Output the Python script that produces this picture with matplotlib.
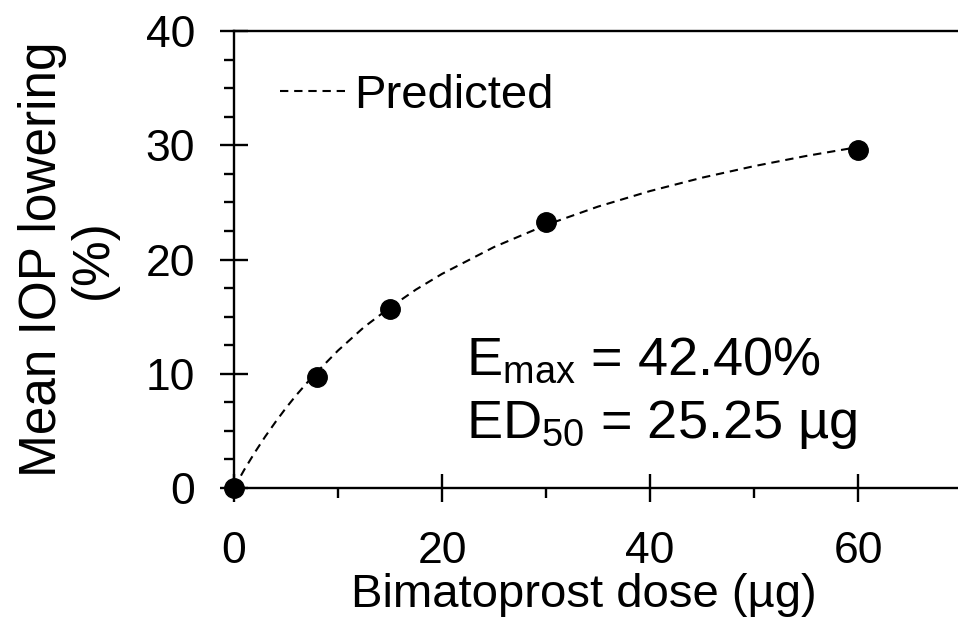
import matplotlib
matplotlib.use("Agg")
import matplotlib.pyplot as plt
from matplotlib.ticker import MultipleLocator

plt.rcParams['font.family'] = ['Liberation Sans', 'DejaVu Sans']
plt.rcParams['mathtext.fontset'] = 'custom'
plt.rcParams['mathtext.rm'] = 'Liberation Sans'
plt.rcParams['mathtext.it'] = 'Liberation Sans'

# Observed data
dose = [0, 8, 15, 30, 60]
iop_lowering = [0.0, 9.7, 15.7, 23.3, 29.6]

# Predicted (Emax model curve) values
pred_dose = [0, 1, 2, 3, 4, 5, 6, 7.5, 10, 12.5, 15, 17.5, 20, 25, 30, 35, 40, 45, 50, 55, 60]
pred_values = [0.0, 1.62, 3.11, 4.50, 5.79, 7.01, 8.14, 9.71, 12.03, 14.08, 15.80,
               17.37, 18.74, 21.09, 23.02, 24.63, 25.99, 27.16, 28.17, 29.06, 29.84]

emax_text = r'E$_{\mathrm{max}}$ = 42.40%'
ed50_text = r'ED$_{\mathrm{50}}$ = 25.25 µg'

fig = plt.figure(figsize=(9.58, 6.22), dpi=100)
ax = fig.add_axes([234/958, 1-488/622, (962-234)/958, (488-31)/622])

ax.plot(pred_dose, pred_values, color='black', lw=1.5, ls=(0, (4, 2.8)), label='Predicted')
ax.plot(dose, iop_lowering, 'o', color='black', ms=14, clip_on=False, zorder=5)

ax.set_xlim(0, 70)
ax.set_ylim(0, 40)
ax.xaxis.set_major_locator(MultipleLocator(20))
ax.xaxis.set_minor_locator(MultipleLocator(10))
ax.yaxis.set_major_locator(MultipleLocator(10))
ax.yaxis.set_minor_locator(MultipleLocator(2.5))

for s in ['left', 'bottom', 'top']:
    ax.spines[s].set_linewidth(1.7)
ax.spines['right'].set_visible(False)

ax.tick_params(which='major', direction='inout', length=20, width=1.7, labelsize=32)
ax.tick_params(axis='y', which='major', pad=18)
ax.tick_params(axis='x', which='major', pad=21)
ax.tick_params(which='minor', direction='out', length=7, width=1.7)

ax.set_xlabel('Bimatoprost dose (µg)', fontsize=34, labelpad=0)
ax.xaxis.set_label_coords(0.48, -0.186)
ax.xaxis.label.set_va('top')
ax.set_ylabel('Mean IOP lowering\n(%)', fontsize=37, linespacing=1.05, va='center')
ax.yaxis.set_label_coords(-0.228, 0.5)

ax.text(22.3, 9.89, emax_text, fontsize=39, ha='left', va='baseline')
ax.text(22.3, 4.38, ed50_text, fontsize=39, ha='left', va='baseline')

ax.legend(loc='center left', bbox_to_anchor=(0.063, 0.858), frameon=False, fontsize=34,
          handlelength=1.38, handletextpad=0.2, borderpad=0, borderaxespad=0)

fig.savefig('out.png', dpi=100)
